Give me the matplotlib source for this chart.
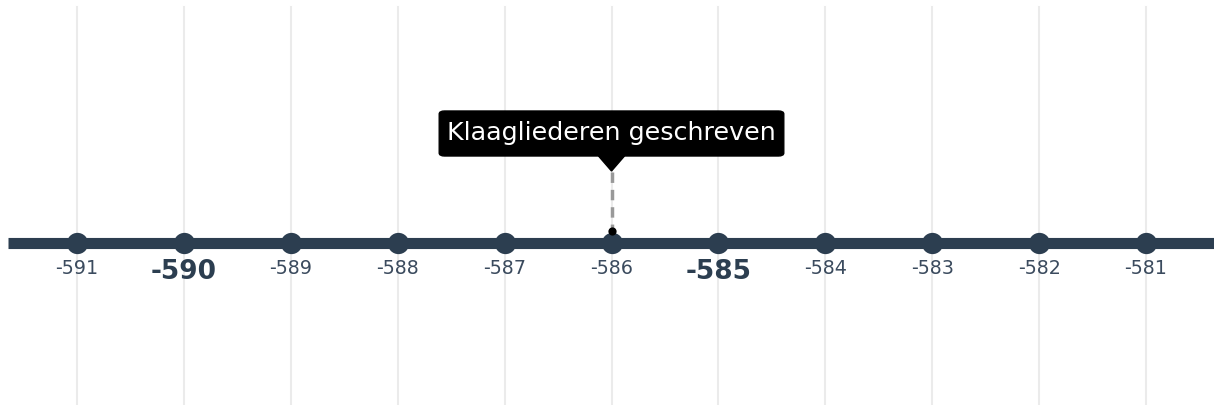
import matplotlib
matplotlib.use("Agg")
import matplotlib.pyplot as plt
from matplotlib.patches import FancyBboxPatch, Polygon

years = [-591, -590, -589, -588, -587, -586, -585, -584, -583, -582, -581]
major_years = [-590, -585]
event_year = -586
event_label = "Klaagliederen geschreven"

W, H = 1214, 405
fig = plt.figure(figsize=(W / 100, H / 100), dpi=100)
ax = fig.add_axes([0, 0, 1, 1])
px = 106.9
x0 = -591 - 77 / px
x1 = x0 + W / px
ax.set_xlim(x0, x1)
ax.set_ylim(H, 0)  # pixel-like y coordinates
ax.axis("off")

navy = "#2c3e50"

for y in years:
    ax.plot([y, y], [7, H], color="#ebebeb", lw=1.5, zorder=1)

ax.plot([x0 + 8 / px, x1], [243, 243], color=navy, lw=8, solid_capstyle="butt", zorder=2)
ax.scatter(years, [243] * len(years), s=235, color=navy, zorder=3, linewidths=0)

for y in years:
    if y in major_years:
        ax.text(y, 272, str(y), ha="center", va="center", fontsize=19,
                fontweight="bold", color=navy, zorder=4)
    else:
        ax.text(y, 268, str(y), ha="center", va="center", fontsize=13.8,
                color="#3b4b5e", zorder=4)

# event callout
ax.plot([event_year, event_year], [172, 229], color="#999999", lw=2.5,
        linestyle=(0, (3, 2)), zorder=3)
ax.scatter([event_year], [231], s=35, color="black", zorder=4, linewidths=0)

t = ax.text(event_year, 133, event_label, ha="center", va="center",
            fontsize=18.3, color="white", zorder=6)
bw = (787 - 436) / px
box = FancyBboxPatch((event_year - bw / 2 + 0.03, 111), bw - 0.06, 45,
                     boxstyle="round,pad=0,rounding_size=0.05",
                     mutation_aspect=60,
                     facecolor="black", edgecolor="black", lw=1, zorder=5)
ax.add_patch(box)
tri = Polygon([[event_year - 13 / px, 156], [event_year + 13 / px, 156],
               [event_year, 171]], closed=True, facecolor="black",
              edgecolor="black", zorder=5)
ax.add_patch(tri)

fig.savefig("out.png", dpi=100, facecolor="white")
